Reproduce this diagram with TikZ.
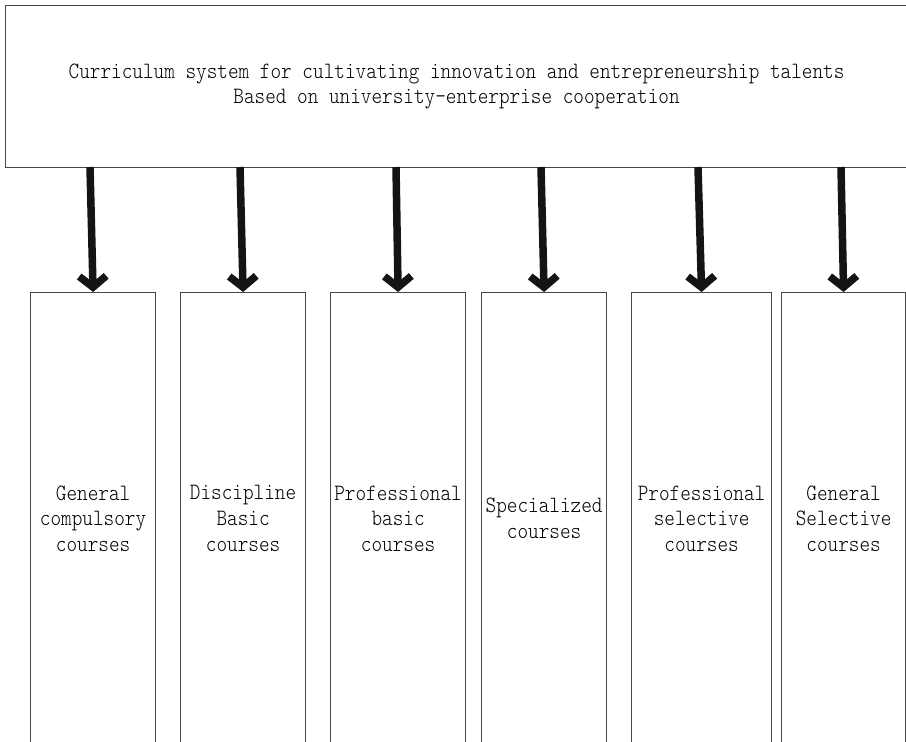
\documentclass[tikz,border=0pt]{standalone}
\usepackage{fontspec}
\newfontfamily\labelfont[FakeStretch=0.865]{Latin Modern Mono Light}
\usetikzlibrary{arrows.meta}
\begin{document}
\begin{tikzpicture}[x=1pt,y=-1pt,
  frame/.style={draw=black!72, line width=1.2pt, inner sep=0pt, anchor=north west,
    align=center, font=\labelfont\fontsize{23.4}{25.7}\selectfont},
  course/.style={frame, minimum height=452pt},
  feed/.style={draw=black!92, line width=7.5pt,
    -{Straight Barb[length=11pt, width=27pt, line join=miter, line cap=butt]}}]
\useasboundingbox (0,0) rectangle (906,742);
\clip (0,0) rectangle (906,742);

% heading box
\node[frame, minimum width=902pt, minimum height=162pt] (title) at (5,5)
  {Curriculum system for cultivating innovation and entrepreneurship talents\\
   Based on university-enterprise cooperation};

% course columns
\node[course, minimum width=125pt] (b1) at (30,292)  {General\\compulsory\\courses};
\node[course, minimum width=125pt] (b2) at (180,292) {Discipline\\Basic\\courses};
\node[course, minimum width=135pt] (b3) at (330,292) {Professional\\basic\\courses};
\node[course, minimum width=125pt] (b4) at (481,292) {Specialized\\courses};
\node[course, minimum width=140pt] (b5) at (631,292) {Professional\\selective\\courses};
\node[course, minimum width=124pt] (b6) at (781,292) {General\\Selective\\courses};

% arrow roots on the heading box
\coordinate (s1) at (90,167);
\coordinate (s2) at (240,167);
\coordinate (s3) at (396,167);
\coordinate (s4) at (541,167);
\coordinate (s5) at (698,167);
\coordinate (s6) at (841,167);

\draw[feed] (s1) -- (b1.north);
\draw[feed] (s2) -- (b2.north);
\draw[feed] (s3) -- (b3.north);
\draw[feed] (s4) -- (b4.north);
\draw[feed] (s5) -- (b5.north);
\draw[feed] (s6) -- (b6.north);
\end{tikzpicture}
\end{document}
